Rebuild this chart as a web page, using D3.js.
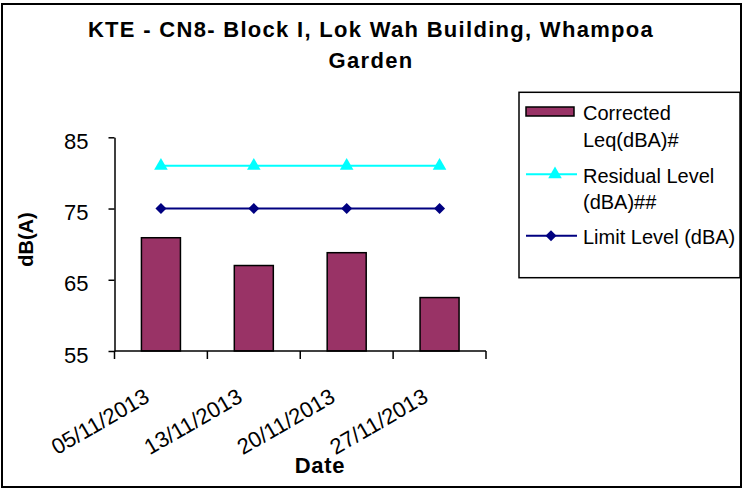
<!DOCTYPE html>
<html>
<head>
<meta charset="utf-8">
<script src="https://cdn.jsdelivr.net/npm/d3@7"></script>
<title>KTE - CN8</title>
<style>
body { margin: 0; background: #fff; }
text { font-family: Arial, "Liberation Sans", sans-serif; fill: #000; }
.axis path, .axis line { stroke: #000; stroke-width: 1.5px; }
</style>
</head>
<body>
<script>
// data
const dates = ["05/11/2013", "13/11/2013", "20/11/2013", "27/11/2013"]
const correctedLeq = [70.9, 67.0, 68.8, 62.5]
const residualLevel = [81, 81, 81, 81]
const limitLevel = [75, 75, 75, 75]
const yTicks = [55, 65, 75, 85]
const titleLines = ["KTE - CN8- Block I, Lok Wah Building, Whampoa", "Garden"]
const legendItems = [
    { key: "bar", lines: ["Corrected", "Leq(dBA)#"] },
    { key: "res", lines: ["Residual Level", "(dBA)##"] },
    { key: "lim", lines: ["Limit Level (dBA)"] }
]

const w = 743, h = 490
const svg = d3.select('body').append('svg').attr('width', w).attr('height', h)

// outer frame
svg.append('rect').attr('x', 2).attr('y', 4).attr('width', 739).attr('height', 483)
    .attr('fill', '#fff').attr('stroke', '#000').attr('stroke-width', 2)

// title
svg.append('g').selectAll('text').data(titleLines).enter().append('text')
    .attr('x', 371).attr('y', (d, i) => 37 + i * 31)
    .attr('text-anchor', 'middle')
    .style('font-size', '22px').style('font-weight', 'bold').style('letter-spacing', '1.3px')
    .text(d => d)

const x = d3.scaleBand().domain(dates).range([114.5, 486])
const y = d3.scaleLinear().domain([55, 85]).range([351, 137.3])
const bw = x.bandwidth()
const cx = d => x(d) + bw / 2

// bars
const barW = bw * 0.42
svg.append('g').selectAll('rect').data(correctedLeq).enter().append('rect')
    .attr('x', (d, i) => cx(dates[i]) - barW / 2)
    .attr('y', d => y(d))
    .attr('width', barW)
    .attr('height', d => y(55) - y(d))
    .attr('fill', '#993366').attr('stroke', '#000').attr('stroke-width', 1.5)

// y axis
const yAxis = d3.axisLeft(y).tickValues(yTicks).tickSize(6).tickSizeOuter(0).tickPadding(20)
const gy = svg.append('g').attr('class', 'axis').attr('transform', 'translate(114.5,0)').call(yAxis)
gy.selectAll('text').style('font-size', '22px').attr('dy', '0.5em')

// x axis (ticks on category boundaries)
const gx = svg.append('g').attr('class', 'axis')
gx.append('line').attr('x1', x.range()[0]).attr('x2', x.range()[1]).attr('y1', y(55)).attr('y2', y(55))
const bounds = dates.map(d => x(d)).concat([x.range()[1]])
gx.selectAll('line.tick').data(bounds).enter().append('line').attr('class', 'tick')
    .attr('x1', d => d).attr('x2', d => d).attr('y1', y(55)).attr('y2', y(55) + 8)
gx.selectAll('text').data(dates).enter().append('text')
    .attr('text-anchor', 'end')
    .attr('transform', d => 'translate(' + (cx(d) - 10) + ',401) rotate(-30)')
    .style('font-size', '22px')
    .text(d => d)

// lines
const line = d3.line().x((d, i) => cx(dates[i])).y(d => y(d))
svg.append('path').attr('d', line(residualLevel)).attr('fill', 'none').attr('stroke', '#00FFFF').attr('stroke-width', 2)
svg.append('path').attr('d', line(limitLevel)).attr('fill', 'none').attr('stroke', '#000080').attr('stroke-width', 2)

const tri = d3.symbol(d3.symbolTriangle, 80)
const dia = d3.symbol(d3.symbolSquare, 60)
svg.append('g').selectAll('path').data(residualLevel).enter().append('path')
    .attr('d', tri).attr('fill', '#00FFFF')
    .attr('transform', (d, i) => 'translate(' + cx(dates[i]) + ',' + y(d) + ')')
svg.append('g').selectAll('path').data(limitLevel).enter().append('path')
    .attr('d', dia).attr('fill', '#000080')
    .attr('transform', (d, i) => 'translate(' + cx(dates[i]) + ',' + y(d) + ') rotate(45)')

// axis titles
svg.append('text').attr('transform', 'translate(33,239.5) rotate(-90)')
    .attr('text-anchor', 'middle').style('font-size', '20px').style('font-weight', 'bold')
    .text('dB(A)')
svg.append('text').attr('x', 320).attr('y', 473)
    .attr('text-anchor', 'middle').style('font-size', '22px').style('font-weight', 'bold').style('letter-spacing', '0.7px')
    .text('Date')

// legend
const lg = svg.append('g')
lg.append('rect').attr('x', 519).attr('y', 92.3).attr('width', 221).attr('height', 185.4)
    .attr('fill', '#fff').attr('stroke', '#000').attr('stroke-width', 1.5)
const rowY = [111.5, 174.3, 235.7]
legendItems.forEach((it, i) => {
    const yy = rowY[i]
    if (it.key === 'bar') {
        lg.append('rect').attr('x', 526).attr('y', yy - 4.5).attr('width', 48).attr('height', 9)
            .attr('fill', '#993366').attr('stroke', '#000').attr('stroke-width', 1.5)
    } else {
        const col = it.key === 'res' ? '#00FFFF' : '#000080'
        lg.append('line').attr('x1', 526).attr('x2', 577).attr('y1', yy).attr('y2', yy)
            .attr('stroke', col).attr('stroke-width', 2)
        lg.append('path').attr('d', it.key === 'res' ? tri : dia).attr('fill', col)
            .attr('transform', 'translate(' + (it.key === 'res' ? 555 : 551) + ',' + yy + ')' + (it.key === 'res' ? '' : ' rotate(45)'))
    }
    it.lines.forEach((t, j) => {
        lg.append('text').attr('x', 583).attr('y', yy + 8.5 + j * 26.5)
            .style('font-size', '20px').text(t)
    })
})
</script>
</body>
</html>
